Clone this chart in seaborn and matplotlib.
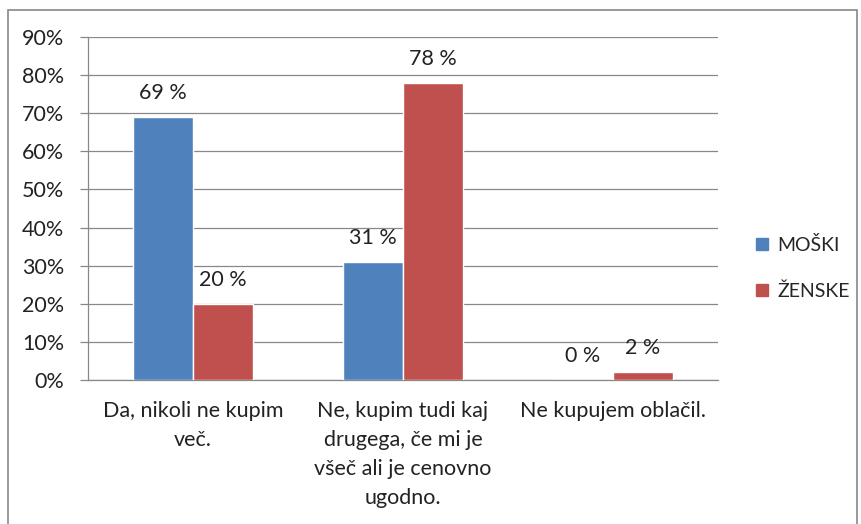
import matplotlib
matplotlib.use("Agg")
import matplotlib.pyplot as plt
from matplotlib.patches import Rectangle
import seaborn as sns
import pandas as pd

categories = ["Da, nikoli ne kupim\nveč.",
              "Ne, kupim tudi kaj\ndrugega, če mi je\nvšeč ali je cenovno\nugodno.",
              "Ne kupujem oblačil."]
series = ["MOŠKI", "ŽENSKE"]
moski = [69, 31, 0]
zenske = [20, 78, 2]
yticks = [0, 10, 20, 30, 40, 50, 60, 70, 80, 90]
colors = ["#4F81BD", "#C0504D"]

df = pd.DataFrame({
    "cat": categories * 2,
    "spol": [series[0]] * 3 + [series[1]] * 3,
    "val": moski + zenske,
})

sns.set_theme(style="white")
plt.rcParams["font.family"] = ["Lato", "DejaVu Sans"]
FS = 15.5

fig = plt.figure(figsize=(8.61, 5.24), dpi=100)
ax = fig.add_axes([88 / 861, 1 - 380 / 524, 630 / 861, 343 / 524])

sns.barplot(data=df, x="cat", y="val", hue="spol", palette=colors,
            width=0.571, saturation=1, ax=ax, legend=False, zorder=3)

ax.set_ylim(0, 90)
ax.set_xlim(-0.5, 2.5)
ax.set_yticks(yticks)
ax.set_yticklabels([f"{t}%" for t in yticks], fontsize=FS, color="#222222")
ax.yaxis.grid(True, color="#888888", linewidth=0.9, zorder=0)
ax.set_axisbelow(True)
ax.set_xlabel("")
ax.set_ylabel("")

ax.set_xticks([0, 1, 2])
ax.set_xticklabels(categories, fontsize=FS, color="#222222", linespacing=1.56)
ax.tick_params(axis="x", length=0, pad=15)
ax.set_xticks([-0.5, 0.5, 1.5, 2.5], minor=True)
ax.tick_params(axis="x", which="minor", length=6, color="#888888", width=0.9)
ax.tick_params(axis="y", length=6, color="#888888", width=0.9, pad=11, left=True)

for s in ["top", "right"]:
    ax.spines[s].set_visible(False)
for s in ["left", "bottom"]:
    ax.spines[s].set_color("#888888")
    ax.spines[s].set_linewidth(0.9)

for cont in ax.containers:
    ax.bar_label(cont, labels=[f"{int(v)} %" for v in cont.datavalues],
                 padding=10, fontsize=FS, color="#222222")

handles = [Rectangle((0, 0), 1, 1, color=c) for c in colors]
fig.legend(handles, series, loc="center left", bbox_to_anchor=(756 / 861, 1 - 268 / 524),
           frameon=False, fontsize=14, handlelength=0.6, handleheight=0.6,
           handletextpad=0.5, labelspacing=1.45, borderpad=0, borderaxespad=0)

fig.patches.append(Rectangle((8 / 861, -0.05), 849 / 861, 1.05 - 10 / 524,
                             transform=fig.transFigure, fill=False,
                             edgecolor="#888888", linewidth=1.2))

fig.savefig("out.png", dpi=100)
